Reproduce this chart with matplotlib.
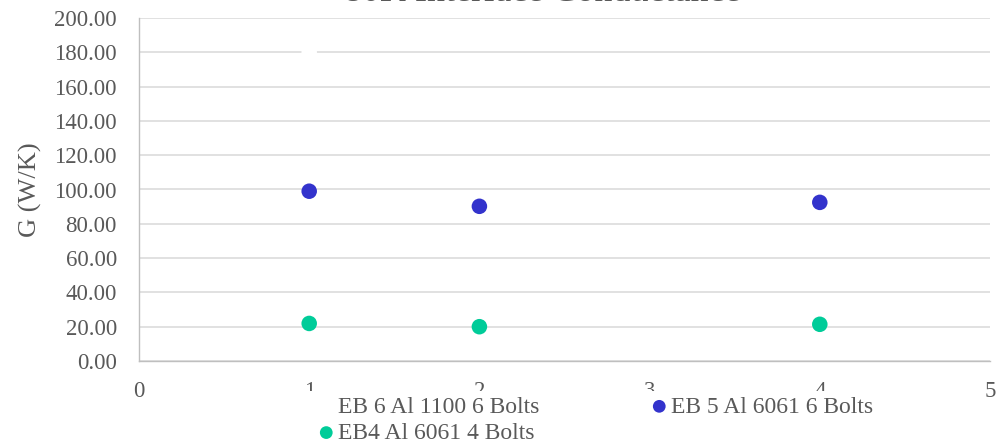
import matplotlib
matplotlib.use("Agg")
import matplotlib.pyplot as plt
from matplotlib.patches import Rectangle
from matplotlib.ticker import FormatStrFormatter

plt.rcParams['font.family'] = ['Liberation Serif', 'DejaVu Serif']

# data
x_eb6 = [1]
g_eb6 = [180.0]
x_eb5 = [1, 2, 4]
g_eb5 = [99.0, 90.2, 92.5]
x_eb4 = [1, 2, 4]
g_eb4 = [21.9, 20.0, 21.4]

labels = ["EB 6 Al 1100 6 Bolts", "EB 5 Al 6061 6 Bolts", "EB4 Al 6061 4 Bolts"]
colors = ["#FFFFFF", "#3333CC", "#00CC99"]
title = "80K Interface Conductance"
ylabel = "G (W/K)"
xticks = [0, 1, 2, 3, 4, 5]
yticks = list(range(0, 201, 20))

W, H = 1005, 440
fig = plt.figure(figsize=(W / 100, H / 100), dpi=100)
ax = fig.add_axes([139 / W, 1 - 361 / H, (990 - 139) / W, (361 - 18) / H])

text_col = "#595959"
msize = 125

s1 = ax.scatter(x_eb6, g_eb6, s=msize, color=colors[0], edgecolors='none', zorder=3, label=labels[0])
s2 = ax.scatter(x_eb5, g_eb5, s=msize, color=colors[1], edgecolors='none', zorder=3, label=labels[1])
s3 = ax.scatter(x_eb4, g_eb4, s=msize, color=colors[2], edgecolors='none', zorder=3, label=labels[2])

ax.set_xlim(0, 5)
ax.set_ylim(0, 200)
ax.set_xticks(xticks)
ax.set_yticks(yticks)
ax.yaxis.set_major_formatter(FormatStrFormatter('%.2f'))
ax.tick_params(axis='both', length=0, labelsize=16.5, colors=text_col)
ax.tick_params(axis='y', pad=16)
ax.tick_params(axis='x', pad=14.5)

ax.set_axisbelow(True)
ax.grid(axis='y', color='#d9d9d9', linewidth=1.1)
for side in ('top', 'right'):
    ax.spines[side].set_visible(False)
for side in ('left', 'bottom'):
    ax.spines[side].set_color('#bfbfbf')
    ax.spines[side].set_linewidth(1.0)

fig.text(30 / W, 1 - 190 / H, ylabel, rotation=90, ha='center', va='center',
         fontsize=19, color=text_col)
fig.text(542 / W, 1 - 1.0 / H, title, ha='center', va='baseline',
         fontsize=26, color=text_col)

# legend background
fig.add_artist(Rectangle((298 / W, 0), (960 - 298) / W, (H - 391) / H,
                         transform=fig.transFigure, facecolor='white',
                         edgecolor='none', zorder=2))

leg_kw = dict(frameon=False, fontsize=17, labelcolor=text_col, handlelength=0.7,
              handletextpad=0.15, labelspacing=0.2, borderpad=0, borderaxespad=0,
              scatterpoints=1, markerscale=0.82, loc='upper left')
leg1 = fig.legend([s1, s3], [labels[0], labels[2]],
                  bbox_to_anchor=(318 / W, 1 - 396 / H), **leg_kw)
leg1.set_zorder(3)
leg2 = fig.legend([s2], [labels[1]],
                  bbox_to_anchor=(651 / W, 1 - 396 / H), **leg_kw)
leg2.set_zorder(3)

fig.savefig("out.png", dpi=100, facecolor='white')
